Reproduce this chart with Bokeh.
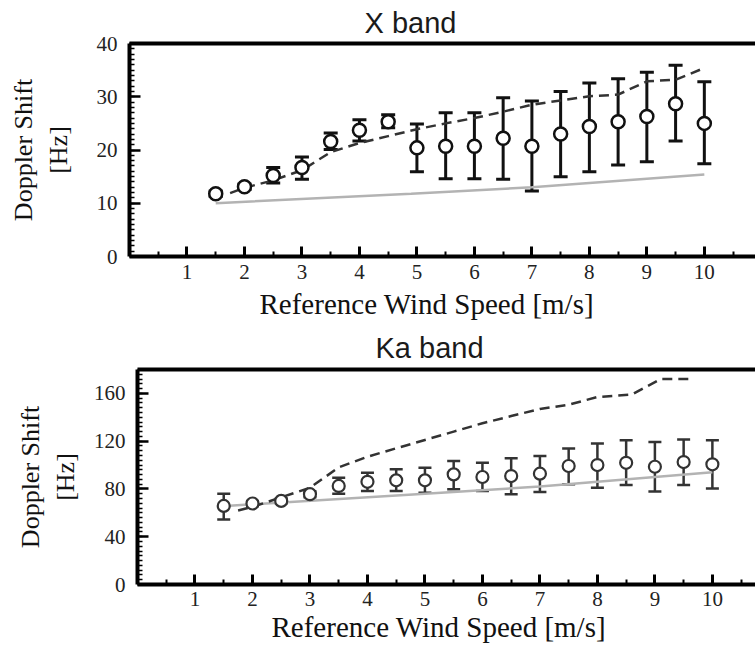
from bokeh.plotting import figure
from bokeh.models import (ColumnDataSource, Whisker, TeeHead, LinearAxis, FixedTicker,
                          Range1d, Title)
from bokeh.layouts import column
from bokeh.embed import file_html
from bokeh.resources import INLINE

# ---------------- data ----------------
wind = [1.5, 2.0, 2.5, 3.0, 3.5, 4.0, 4.5, 5.0, 5.5, 6.0, 6.5, 7.0, 7.5, 8.0, 8.5, 9.0, 9.5, 10.0]

# X band
x_mean = [11.8, 13.1, 15.2, 16.7, 21.6, 23.7, 25.3, 20.4, 20.7, 20.7, 22.2, 20.7, 23.0, 24.4, 25.3, 26.3, 28.7, 25.0]
x_upper = [12.3, 13.6, 16.7, 18.7, 23.2, 25.7, 26.6, 24.9, 27.0, 27.0, 29.8, 29.2, 31.0, 32.6, 33.4, 34.6, 35.9, 32.8]
x_lower = [11.3, 12.6, 13.8, 14.5, 20.1, 21.7, 24.2, 15.9, 14.6, 14.6, 14.5, 12.3, 15.0, 15.9, 17.2, 17.8, 21.7, 17.4]
x_dash_speed = [1.75, 2.0, 2.5, 3.0, 3.5, 4.0, 4.5, 5.0, 5.5, 6.0, 6.5, 7.0, 7.5, 8.0, 8.5, 9.0, 9.5, 10.0]
x_dash_shift = [11.9, 12.9, 14.3, 16.2, 19.6, 21.3, 22.6, 23.9, 25.0, 26.0, 27.2, 28.5, 29.3, 30.1, 30.4, 32.9, 33.2, 35.4]
x_gray_speed = [1.5, 4.9, 7.0, 10.0]
x_gray_shift = [10.0, 11.8, 13.0, 15.4]

# Ka band
ka_mean = [65.8, 67.8, 70.0, 75.6, 82.5, 86.0, 87.2, 87.2, 92.2, 90.0, 90.8, 92.8, 99.2, 100.0, 101.9, 98.6, 102.5, 100.6]
ka_upper = [76.0, 70.0, 72.0, 78.0, 89.4, 93.6, 96.4, 97.8, 103.3, 101.9, 105.6, 107.5, 113.9, 118.0, 120.8, 119.2, 121.4, 120.8]
ka_lower = [54.5, 65.6, 68.0, 73.0, 76.0, 78.3, 78.3, 76.9, 79.7, 78.3, 75.6, 77.5, 83.9, 81.1, 83.3, 77.8, 83.3, 80.3]
ka_dash_speed = [1.75, 2.0, 2.5, 3.0, 3.5, 4.0, 4.5, 5.0, 5.5, 6.0, 6.5, 7.0, 7.5, 8.0, 8.6, 9.1, 9.6]
ka_dash_shift = [62.0, 65.0, 73.0, 81.0, 98.0, 107.0, 114.0, 121.0, 128.0, 135.0, 141.0, 147.0, 150.5, 157.0, 159.0, 172.0, 172.0]
ka_gray_speed = [1.6, 5.0, 7.0, 10.0]
ka_gray_shift = [66.0, 76.0, 82.0, 94.0]

x_ticks = [1, 2, 3, 4, 5, 6, 7, 8, 9, 10, 11]
x_minor = [0.5, 1.5, 2.5, 3.5, 4.5, 5.5, 6.5, 7.5, 8.5, 9.5, 10.5, 11.5]
xband_yticks = [0, 10, 20, 30, 40]
kaband_yticks = [0, 40, 80, 120, 160]

x_label_text = "Reference Wind Speed [m/s]"
y_label_text = "Doppler Shift\n[Hz]"

SERIF = "Liberation Serif"
SANS = "Liberation Sans"


def make_panel(title, title_offset, ymax, yticks, yminor, mean, upper, lower,
               dash_x, dash_y, gray_x, gray_y, height, left, top, bottom, xend,
               color, msize, mlw, wlw, cap, ylab_standoff, xlab_offset, xlab_standoff,
               xtick_standoff, title_standoff):
    p = figure(width=755, height=height, x_range=Range1d(0, xend), y_range=Range1d(0, ymax),
               output_backend="svg", toolbar_location=None,
               min_border_left=left, min_border_right=0, min_border_top=top, min_border_bottom=bottom)
    p.frame_align = False
    p.outline_line_color = None
    p.background_fill_color = "white"
    p.border_fill_color = "white"
    p.xgrid.visible = False
    p.ygrid.visible = False

    p.title.text = title
    p.title.text_font = SANS
    p.title.text_font_size = "29px"
    p.title.text_font_style = "normal"
    p.title.text_color = "#1a1a1a"
    p.title.align = "left"
    p.title.offset = title_offset
    p.title.standoff = title_standoff

    xa = p.below[0]
    xa.ticker = FixedTicker(ticks=x_ticks, minor_ticks=x_minor)
    xa.major_label_text_font = SERIF
    xa.major_label_text_font_size = "21px"
    xa.major_label_text_color = "#222222"
    xa.major_label_standoff = xtick_standoff
    xa.axis_line_width = 4
    xa.axis_line_color = "black"
    xa.major_tick_in = 10
    xa.major_tick_out = 0
    xa.minor_tick_in = 5
    xa.minor_tick_out = 0
    xa.major_tick_line_width = 3
    xa.minor_tick_line_width = 2
    xa.major_tick_line_color = "black"
    xa.minor_tick_line_color = "black"

    xlabel = Title(text=x_label_text, text_font=SERIF, text_font_size="29px",
                   text_font_style="normal", text_color="#111111", align="left",
                   offset=xlab_offset, standoff=xlab_standoff)
    p.add_layout(xlabel, "below")

    ya = p.left[0]
    ya.ticker = FixedTicker(ticks=yticks, minor_ticks=yminor)
    ya.axis_label = y_label_text
    ya.axis_label_text_font = SERIF
    ya.axis_label_text_font_size = "26px"
    ya.axis_label_text_font_style = "normal"
    ya.axis_label_text_color = "#111111"
    ya.axis_label_standoff = ylab_standoff
    ya.major_label_text_font = SERIF
    ya.major_label_text_font_size = "21px"
    ya.major_label_text_color = "#222222"
    ya.major_label_standoff = 12
    ya.axis_line_width = 4
    ya.axis_line_color = "black"
    ya.major_tick_in = 11
    ya.major_tick_out = 0
    ya.minor_tick_in = 5
    ya.minor_tick_out = 0
    ya.major_tick_line_width = 2.5
    ya.minor_tick_line_width = 1.5
    ya.major_tick_line_color = "black"
    ya.minor_tick_line_color = "black"

    top_axis = LinearAxis(ticker=FixedTicker(ticks=[]), major_label_text_font_size="0px",
                          axis_line_width=4, axis_line_color="black",
                          major_tick_in=0, major_tick_out=0, minor_tick_in=0, minor_tick_out=0,
                          major_label_standoff=0)
    p.add_layout(top_axis, "above")

    p.line(gray_x, gray_y, line_color="#b3b3b3", line_width=2.5)
    p.line(dash_x, dash_y, line_color="#333333", line_width=2.5, line_dash="10 6")

    src = ColumnDataSource(dict(x=wind, mean=mean, upper=upper, lower=lower))
    w = Whisker(source=src, base="x", upper="upper", lower="lower",
                line_color=color, line_width=wlw, level="underlay",
                upper_head=TeeHead(size=cap, line_color=color, line_width=wlw),
                lower_head=TeeHead(size=cap, line_color=color, line_width=wlw))
    p.add_layout(w)
    p.scatter("x", "mean", source=src, marker="circle", size=msize,
              fill_color="white", line_color=color, line_width=mlw)
    return p


p1 = make_panel("X band", 235, 40, xband_yticks, list(range(0, 41)),
                x_mean, x_upper, x_lower, x_dash_speed, x_dash_shift, x_gray_speed, x_gray_shift,
                height=324, left=129, top=42, bottom=68, xend=10.89,
                color="#111111", msize=13, mlw=2.5, wlw=3, cap=14,
                ylab_standoff=21, xlab_offset=130, xlab_standoff=9,
                xtick_standoff=8, title_standoff=9)

p2 = make_panel("Ka band", 238, 180, kaband_yticks, list(range(0, 181, 4)),
                ka_mean, ka_upper, ka_lower, ka_dash_speed, ka_dash_shift, ka_gray_speed, ka_gray_shift,
                height=321, left=137, top=44, bottom=61, xend=10.75,
                color="#333333", msize=12, mlw=2.2, wlw=2.5, cap=13,
                ylab_standoff=11, xlab_offset=134, xlab_standoff=0,
                xtick_standoff=7, title_standoff=11)

layout = column(p1, p2, spacing=0)
open("out.html", "w").write(file_html(layout, INLINE))
